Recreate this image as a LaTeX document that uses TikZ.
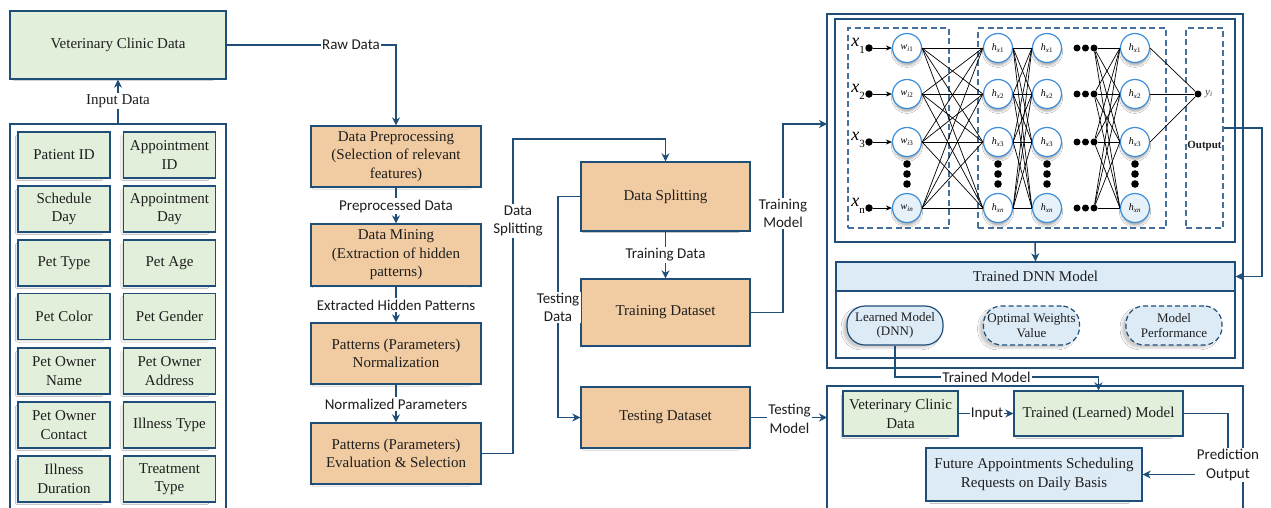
\documentclass[tikz,border=0pt]{standalone}
\usepackage{fontspec}
\setmainfont{Liberation Serif}
\newfontfamily\sansf{Carlito}
\usetikzlibrary{arrows.meta,shadows.blur}

\definecolor{navy}{RGB}{31,78,121}
\definecolor{mint}{RGB}{226,239,218}
\definecolor{peach}{RGB}{241,203,161}
\definecolor{sky}{RGB}{221,235,247}
\definecolor{ring}{RGB}{61,143,217}
\definecolor{dashc}{RGB}{70,112,156}
\definecolor{txt}{RGB}{30,30,30}

\tikzset{
  box/.style={draw=navy, line width=1.3pt, align=center, inner sep=0pt,
    text=txt, font=\fontsize{15}{18.5}\selectfont},
  shad/.style={blur shadow={shadow xshift=-5pt, shadow yshift=-3pt,
    shadow opacity=22, shadow scale=0.92}},
  greenbox/.style={box, shad, fill=mint},
  peachbox/.style={box, shad, fill=peach},
  skybox/.style={box, shad, fill=sky},
  item/.style={greenbox, minimum width=92pt, minimum height=46pt},
  stage/.style={peachbox, minimum width=170pt, minimum height=61pt},
  conn/.style={draw=navy, line width=1.5pt},
  arr/.style={conn, -{Stealth[length=8pt,width=8pt,inset=2.5pt]}},
  lbl/.style={font=\sansf\fontsize{15}{18.5}\selectfont, fill=white,
    inner sep=1.5pt, align=center, text=txt},
  seriflbl/.style={font=\fontsize{15}{18}\selectfont, fill=white,
    inner sep=1.5pt, text=txt},
  pill/.style={draw=navy, line width=1.2pt, fill=sky, rounded corners=18pt,
    minimum width=96pt, minimum height=39pt, align=center, inner sep=0pt,
    text=txt, font=\fontsize{13}{14.5}\selectfont,
    blur shadow={shadow xshift=-4pt, shadow yshift=-3pt, shadow opacity=20}},
  dashbox/.style={draw=dashc, line width=1.2pt, dash pattern=on 6pt off 3.5pt,
    inner sep=0pt},
  neuron/.style={circle, draw=ring, line width=1.2pt, fill=white,
    minimum size=29pt, inner sep=0pt, font=\fontsize{10}{10}\selectfont,
    blur shadow={shadow xshift=0pt, shadow yshift=-4pt, shadow opacity=30,
      shadow scale=0.95}},
  tinted/.style={fill=sky!70},
  dot/.style={circle, fill=black, minimum size=7.5pt, inner sep=0pt},
  wire/.style={draw=black, line width=0.7pt},
}

\begin{document}
\begin{tikzpicture}[x=1pt,y=-1pt]
\useasboundingbox (0,0) rectangle (1271,507);
\fill[white] (0,0) rectangle (1271,507);
\clip (0,0) rectangle (1271,507);

% ---------- source data ----------
\node[greenbox, minimum width=216pt, minimum height=68pt] (vcd) at (118,45)
  {Veterinary Clinic Data};

% container of the data attributes (open at the bottom)
\draw[conn, line width=1.3pt] (10,515) |- (226,124) -- (226,515);
\coordinate (ctop) at (118,124);

\node[item] (pid) at (64,155)    {Patient ID};
\node[item] (aid) at (169.5,155) {Appointment\\ID};
\node[item] (sday) at (64,209)   {Schedule\\Day};
\node[item] (aday) at (169.5,209){Appointment\\Day};
\node[item] (ptype) at (64,263)  {Pet Type};
\node[item] (page) at (169.5,263){Pet Age};
\node[item] (pcol) at (64,316.5) {Pet Color};
\node[item] (pgen) at (169.5,316.5){Pet Gender};
\node[item] (oname) at (64,371)  {Pet Owner\\Name};
\node[item] (oaddr) at (169.5,371){Pet Owner\\Address};
\node[item] (ocon) at (64,425)   {Pet Owner\\Contact};
\node[item] (itype) at (169.5,425){Illness Type};
\node[item] (idur) at (64,479)   {Illness\\Duration};
\node[item] (ttype) at (169.5,479){Treatment\\Type};

\draw[arr] (ctop) -- (vcd.south);
\node[seriflbl] at (118,101) {Input Data};

% ---------- data mining pipeline ----------
\node[stage] (pre)  at (396,156.5) {Data Preprocessing\\(Selection of relevant\\features)};
\node[stage, minimum height=62pt] (mine) at (396,255) {Data Mining\\(Extraction of hidden\\patterns)};
\node[stage] (norm) at (396,353.5) {Patterns (Parameters)\\Normalization};
\node[stage] (eval) at (396,453.5) {Patterns (Parameters)\\Evaluation \& Selection};

\draw[arr] (vcd.east) -| (pre.north);
\node[lbl] at (351,45) {Raw Data};
\draw[arr] (pre.south) -- (mine.north);
\node[lbl] at (396,206) {Preprocessed Data};
\draw[arr] (mine.south) -- (norm.north);
\node[lbl] at (396,305) {Extracted Hidden Patterns};
\draw[arr] (norm.south) -- (eval.north);
\node[lbl] at (396,404) {Normalized Parameters};

% ---------- splitting ----------
\node[peachbox, minimum width=169pt, minimum height=69pt] (split) at (665.5,196.5) {Data Splitting};
\node[peachbox, minimum width=169pt, minimum height=67pt] (train) at (665.5,312.5) {Training Dataset};
\node[peachbox, minimum width=169pt, minimum height=61pt] (test)  at (665.5,417.5) {Testing Dataset};

\draw[arr] (eval.east) -| (513,139) -| (split.north);
\node[lbl] at (518,221) {Data\\Splitting};
\draw[arr] (split.south) -- (train.north);
\node[lbl] at (665.5,255) {Training Data};
\draw[arr] (split.west) -- (558,196.5) |- (test.west);
\node[lbl] at (558,307.5) {Testing\\Data};

% ---------- DNN training frame ----------
\node[draw=navy, line width=1.3pt, minimum width=416pt, minimum height=354pt,
  inner sep=0pt] (nnbox) at (1035,191) {};
\node[draw=navy, line width=1.3pt, minimum width=400pt, minimum height=223pt,
  inner sep=0pt] (nnin) at (1035,130.5) {};
\coordinate (trin) at (827,124);
\coordinate (tein) at (827,417.5);

\draw[arr] (train.east) -- (783,312.5) |- (trin);
\node[lbl] at (783,213.5) {Training\\Model};
\draw[arr] (test.east) -- (tein);
\node[lbl] at (789.5,419) {Testing\\Model};

% layer frames
\node[dashbox, minimum width=101pt, minimum height=200pt] (inbox)  at (898.5,128) {};
\node[dashbox, minimum width=188pt, minimum height=200pt] (hidbox) at (1072,128) {};
\node[dashbox, minimum width=37pt,  minimum height=200pt] (outbox) at (1204.5,128) {};

% neurons
\foreach \i/\yy/\s in {1/48/1, 2/94/2, 3/142/3, 4/208/n} {
  \node[dot] (p\i) at (869,\yy) {};
  \node[anchor=east, inner sep=0pt, font=\fontsize{18}{18}\selectfont] (x\i) at (865,\yy-2)
    {\textit{x}\raisebox{-7pt}{\fontsize{11}{11}\selectfont\s}};
  \node[dot, minimum size=7pt] (qa\i) at (1077,\yy) {};
  \node[dot, minimum size=7pt] (qb\i) at (1085.5,\yy) {};
  \node[dot, minimum size=7pt] (qc\i) at (1094,\yy) {};
}
\node[neuron] (w1) at (907,48)  {\textit{w}\textsubscript{\textit{i}1}};
\node[neuron] (w2) at (907,94)  {\textit{w}\textsubscript{\textit{i}2}};
\node[neuron] (w3) at (907,142) {\textit{w}\textsubscript{\textit{i}3}};
\node[neuron, tinted] (w4) at (907,208) {\textit{w}\textsubscript{\textit{in}}};
\node[neuron] (a1) at (998,48)  {\textit{h}\textsubscript{\textit{x}1}};
\node[neuron] (a2) at (998,94)  {\textit{h}\textsubscript{\textit{x}2}};
\node[neuron] (a3) at (998,142) {\textit{h}\textsubscript{\textit{x}3}};
\node[neuron] (a4) at (998,208) {\textit{h}\textsubscript{\textit{xn}}};
\node[neuron] (b1) at (1047,48)  {\textit{h}\textsubscript{\textit{x}1}};
\node[neuron] (b2) at (1047,94)  {\textit{h}\textsubscript{\textit{x}2}};
\node[neuron] (b3) at (1047,142) {\textit{h}\textsubscript{\textit{x}3}};
\node[neuron, tinted] (b4) at (1047,208) {\textit{h}\textsubscript{\textit{xn}}};
\node[neuron] (c1) at (1135,48)  {\textit{h}\textsubscript{\textit{x}1}};
\node[neuron] (c2) at (1135,94)  {\textit{h}\textsubscript{\textit{x}2}};
\node[neuron] (c3) at (1135,142) {\textit{h}\textsubscript{\textit{x}3}};
\node[neuron, tinted] (c4) at (1135,208) {\textit{h}\textsubscript{\textit{xn}}};

% vertical ellipsis dots
\foreach \xx in {907,998,1047,1135}
  \foreach \yy in {164,174,184}
    \fill (\xx,\yy) circle (3.8pt);

% output unit
\node[dot, minimum size=7pt] (y) at (1198,94) {};
\node[anchor=west, inner sep=0pt, text=black!70, font=\fontsize{11}{11}\selectfont] (ylab) at (1205,94)
  {\textit{y}\textsubscript{\textit{i}}};
\node[font=\fontsize{11}{11}\selectfont\bfseries, inner sep=0pt, text=txt] (outlab) at (1204.5,146) {Output};

% connections
\foreach \i in {1,...,4} {
  \draw[wire, -{Stealth[length=6pt,width=5pt]}] (p\i) -- (w\i.west);
  \foreach \j in {1,...,4} {
    \draw[wire] (w\i.east) -- (a\j.west);
    \draw[wire] (a\i.east) -- (b\j.west);
    \draw[wire] (qc\i) -- (c\j.west);
  }
}
\foreach \i in {1,2,3}
  \draw[wire] (c\i.east) -- (y);

% ---------- trained model ----------
\node[draw=navy, line width=1.3pt, fill=sky, minimum width=399pt, minimum height=29pt,
  inner sep=0pt, text=txt, font=\fontsize{15}{18}\selectfont] (dnnhead) at (1035.5,276.5) {Trained DNN Model};
\node[draw=navy, line width=1.3pt, fill=white, minimum width=399pt, minimum height=67pt,
  inner sep=0pt] (dnnbody) at (1035.5,324.5) {};
\node[pill] (lm)  at (895,325.5)    {Learned Model\\(DNN)};
\node[pill, dash pattern=on 5pt off 3pt] (owv) at (1031.5,325.5) {Optimal Weights\\Value};
\node[pill, dash pattern=on 5pt off 3pt] (mp)  at (1174,325.5)   {Model\\Performance};

\draw[arr] (nnin.south) -- (dnnhead.north);
\draw[arr] (outbox.east) -- (1262,128) |- (dnnhead.east);

% ---------- prediction ----------
\draw[conn, line width=1.3pt] (827,515) |- (1243,386) -- (1243,515);
\node[greenbox, minimum width=115pt, minimum height=45pt, font=\fontsize{15}{19}\selectfont]
  (vcd2) at (900.5,413.5) {Veterinary Clinic\\Data};
\node[greenbox, minimum width=169pt, minimum height=45pt] (tlm) at (1098.5,413.5) {Trained (Learned) Model};
\node[skybox, minimum width=216pt, minimum height=53pt] (future) at (1034,474.5)
  {Future Appointments Scheduling\\Requests on Daily Basis};

\draw[arr] (lm.south) -- (895,377) -| (tlm.north);
\node[lbl] at (986.5,377) {Trained Model};
\draw[arr] (vcd2.east) -- (tlm.west);
\node[lbl, inner sep=1pt] at (987,413.5) {Input};
\draw[arr] (tlm.east) -| (1228,474.5) -- (future.east);
\node[lbl] at (1228,465) {Prediction\\Output};
\end{tikzpicture}
\end{document}
